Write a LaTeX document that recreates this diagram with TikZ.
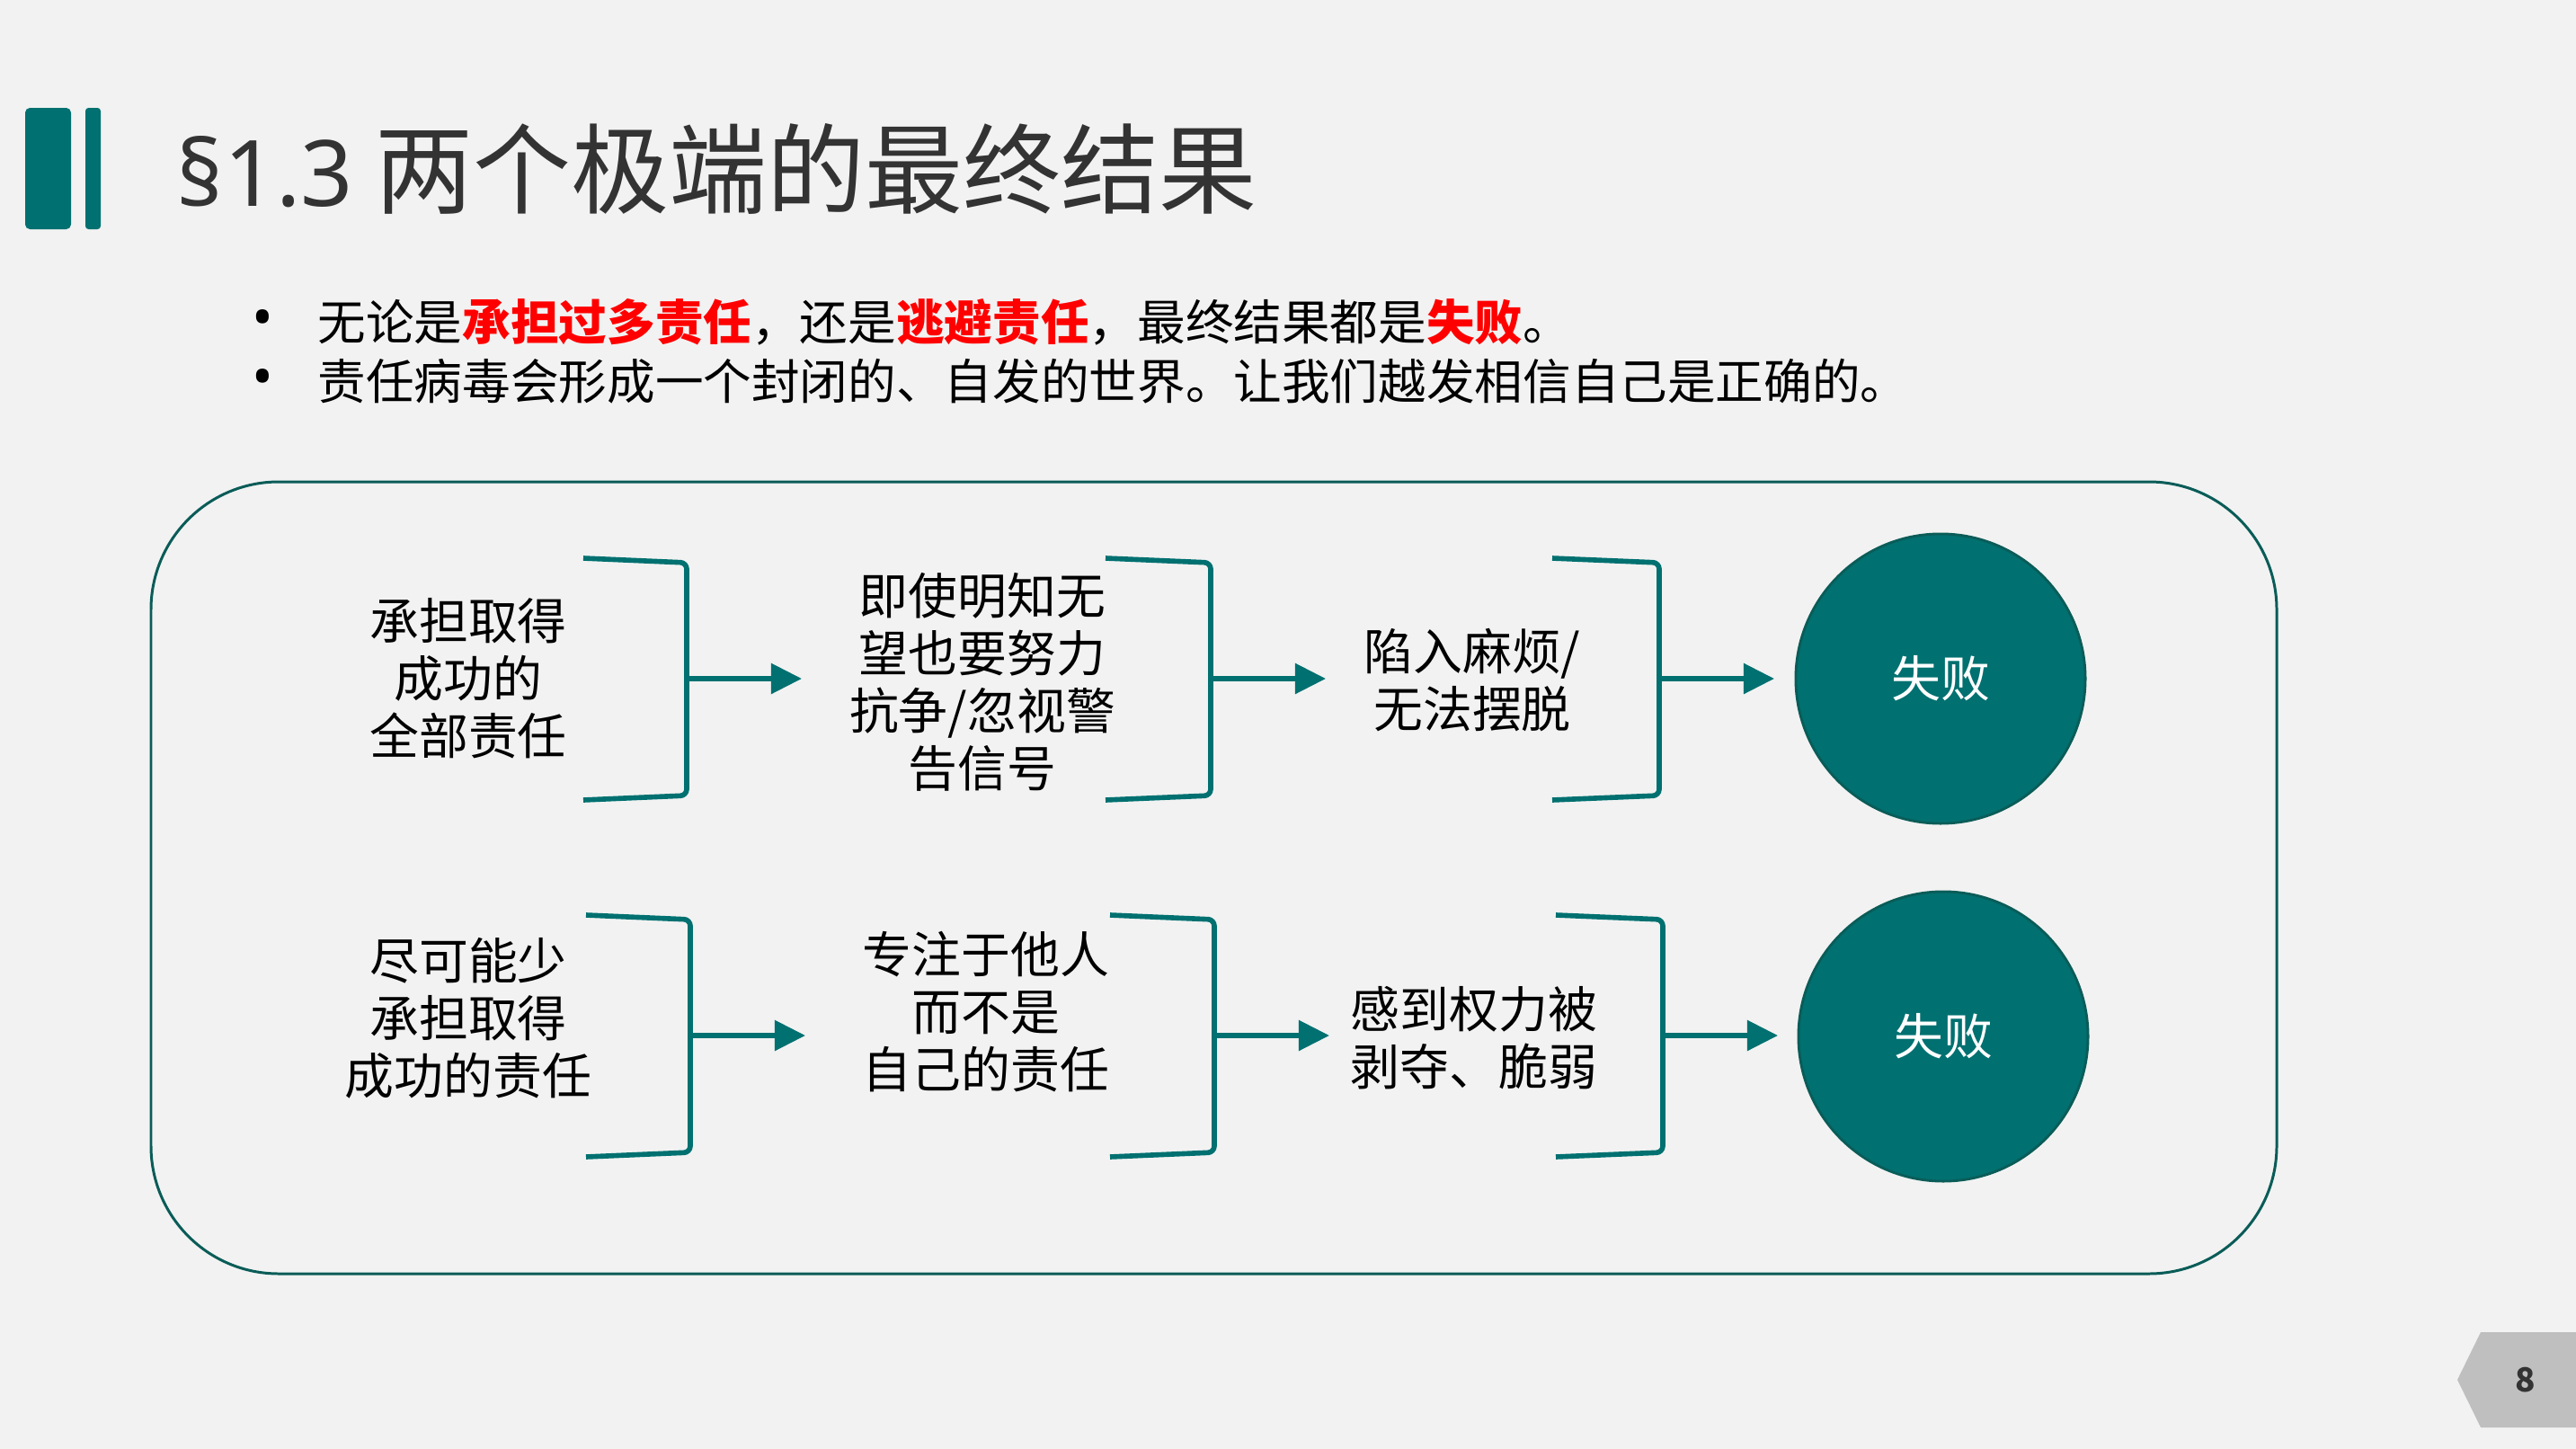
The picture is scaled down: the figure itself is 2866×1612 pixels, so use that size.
\documentclass[tikz,border=0pt]{standalone}
\usepackage{fontspec}
\setmainfont{Noto Sans CJK SC}
\newfontfamily\latinfont{Noto Sans}
\usetikzlibrary{arrows.meta,positioning}
\definecolor{slidebg}{RGB}{242,242,242}
\definecolor{frameteal}{RGB}{10,92,88}
\definecolor{mainteal}{RGB}{0,112,112}
\definecolor{inkgray}{RGB}{51,51,51}
\definecolor{alertred}{RGB}{255,0,0}
\definecolor{tabgray}{RGB}{191,191,191}
\newcommand{\hotword}[1]{\textcolor{alertred}{\textbf{#1}}}

\begin{document}
\begin{tikzpicture}[
    x=0.01cm, y=-0.01cm,
    every node/.style={inner sep=0pt},
    item/.style={align=center,font=\fontsize{15.6}{18.2}\selectfont},
    brk/.style={draw=mainteal,line width=1.6pt,rounded corners=2pt},
    arrow/.style={draw=mainteal,line width=1.6pt,-{Triangle[length=9.7pt,width=9.4pt]}},
    fail/.style={circle,fill=mainteal,draw=frameteal,line width=0.8pt,minimum size=3.22cm,
      text=white,font=\fontsize{15.6}{18.2}\selectfont},
    point/.style={anchor=base west,font=\fontsize{15.25}{18}\selectfont},
    dot/.style={font=\latinfont\fontsize{18}{20}\selectfont}
  ]
    % slide
    \fill[slidebg] (0,0) rectangle (2866,1612);
    \useasboundingbox (0,0) rectangle (2866,1612);

    % title
    \fill[mainteal,rounded corners=1.5pt] (28,120) rectangle (79,255);
    \fill[mainteal,rounded corners=1pt] (95,120) rectangle (112,255);
    \node[anchor=base west,text=inkgray,font=\fontsize{31}{34}\selectfont] (title) at (196,229)
      {{\latinfont\fontsize{29}{34}\selectfont §1.3} 两个极端的最终结果};

    % bullets
    \node[dot] (dot1) at (292,360) {•};
    \node[point] (line1) at (353,378)
      {无论是\hotword{承担过多责任}，还是\hotword{逃避责任}，最终结果都是\hotword{失败}。};
    \node[dot] (dot2) at (292,426) {•};
    \node[point] (line2) at (353,444)
      {责任病毒会形成一个封闭的、自发的世界。让我们越发相信自己是正确的。};

    % frame
    \draw[frameteal,line width=0.85pt,rounded corners=1.42cm] (168,536) rectangle (2533,1417);

    % row 1
    \node[item] (take) at (521,755) {承担取得\\成功的\\全部责任};
    \node[item] (push) at (1093,759) {即使明知无\\望也要努力\\抗争/忽视警\\告信号};
    \node[item] (stuck) at (1638,757) {陷入麻烦/\\无法摆脱};
    \node[fail] (fail1) at (2159,755) {失败};

    \draw[brk] (649,621) -- (764,626) -- (764,885) -- (649,890);
    \draw[brk] (1230,621) -- (1347,626) -- (1347,885) -- (1230,890);
    \draw[brk] (1727,621) -- (1846,626) -- (1846,885) -- (1727,890);
    \coordinate (m1) at (764,755);
    \coordinate (m2) at (1347,755);
    \coordinate (m3) at (1846,755);
    \coordinate (e1) at (892,755);
    \coordinate (e2) at (1475,755);
    \coordinate (e3) at (1974,755);
    \draw[arrow] (m1) -- (e1);
    \draw[arrow] (m2) -- (e2);
    \draw[arrow] (m3) -- (e3);

    % row 2
    \node[item] (avoid) at (521,1133) {尽可能少\\承担取得\\成功的责任};
    \node[item] (others) at (1097,1126) {专注于他人\\而不是\\自己的责任};
    \node[item] (weak) at (1640,1155) {感到权力被\\剥夺、脆弱};
    \node[fail] (fail2) at (2162,1153) {失败};

    \draw[brk] (652,1018) -- (768,1023) -- (768,1282) -- (652,1287);
    \draw[brk] (1235,1018) -- (1351,1023) -- (1351,1282) -- (1235,1287);
    \draw[brk] (1731,1018) -- (1850,1023) -- (1850,1282) -- (1731,1287);
    \coordinate (n1) at (768,1152);
    \coordinate (n2) at (1351,1152);
    \coordinate (n3) at (1850,1152);
    \coordinate (f1) at (896,1152);
    \coordinate (f2) at (1479,1152);
    \coordinate (f3) at (1978,1152);
    \draw[arrow] (n1) -- (f1);
    \draw[arrow] (n2) -- (f2);
    \draw[arrow] (n3) -- (f3);

    % page tab
    \fill[tabgray] (2734,1535) -- (2760,1482) -- (2866,1482) -- (2866,1588) -- (2760,1588) -- cycle;
    \node[text=inkgray,font=\fontsize{10.5}{12}\selectfont\bfseries] (page) at (2810,1535) {8};
\end{tikzpicture}
\end{document}
